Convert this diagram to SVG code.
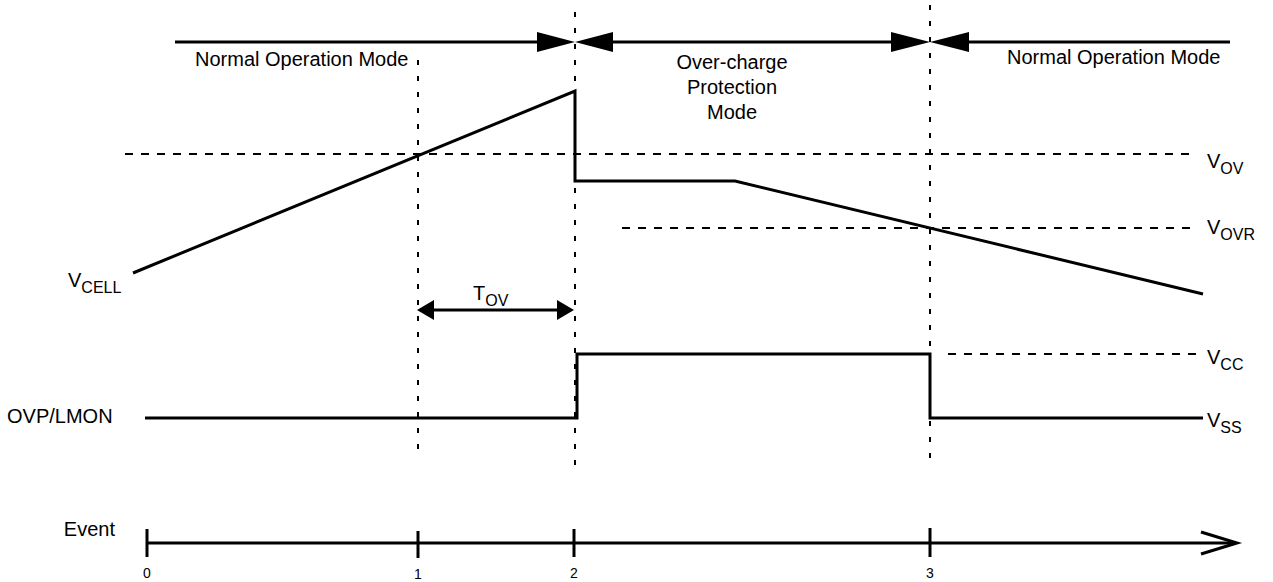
<svg xmlns="http://www.w3.org/2000/svg" width="1273" height="582" viewBox="0 0 1273 582">
<style>
text{font-family:"Liberation Sans",Arial,sans-serif;fill:#000;font-size:20px}
.sub{font-size:16px}
.small{font-size:14px}
.solid{fill:none;stroke:#000;stroke-width:3}
.dh{fill:none;stroke:#000;stroke-width:2;stroke-dasharray:8 8}
.dv{fill:none;stroke:#000;stroke-width:2;stroke-dasharray:5 11}
.ah{fill:#000;stroke:none}
</style>
<rect width="1273" height="582" fill="#fff"/>
<g id="guides">
<line class="dv" x1="418" y1="60" x2="418" y2="458"/>
<line class="dv" x1="575" y1="12" x2="575" y2="466"/>
<line class="dv" x1="930" y1="5" x2="930" y2="468"/>
<line class="dh" x1="125" y1="154" x2="1196" y2="154"/>
<line class="dh" x1="622" y1="228" x2="1196" y2="228"/>
<line class="dh" x1="948" y1="354" x2="1203" y2="354"/>
</g>
<g id="connectors">
<line class="solid" x1="175" y1="42" x2="540" y2="42"/>
<polygon class="ah" points="575,42 537,32 537,52"/>
<line class="solid" x1="610" y1="42" x2="895" y2="42"/>
<polygon class="ah" points="575,42 613,32 613,52"/>
<polygon class="ah" points="930,42 891,32 891,52"/>
<line class="solid" x1="965" y1="42" x2="1230" y2="42"/>
<polygon class="ah" points="930,42 969,32 969,52"/>
<line class="solid" x1="430" y1="310" x2="560" y2="310"/>
<polygon class="ah" points="417,310 434,300 434,320"/>
<polygon class="ah" points="574,310 557,300 557,320"/>
</g>
<g id="vcell-wave">
<polyline class="solid" points="133,273 575,91 575,181 735,181 1203,294"/>
</g>
<g id="ovp-wave">
<polyline class="solid" points="145,418 577,418 577,354 930,354 930,418 1203,418"/>
</g>
<g id="event-axis">
<line class="solid" x1="147" y1="543" x2="1236" y2="543"/>
<polyline class="solid" points="1201,532 1237,543 1201,554"/>
<line class="solid" x1="147" y1="529" x2="147" y2="557"/>
<line class="solid" x1="418" y1="531" x2="418" y2="558"/>
<line class="solid" x1="574" y1="529" x2="574" y2="557"/>
<line class="solid" x1="930" y1="528" x2="930" y2="557"/>
<text class="small" x="147" y="578" text-anchor="middle">0</text>
<text class="small" x="418" y="579" text-anchor="middle">1</text>
<text class="small" x="574" y="578" text-anchor="middle">2</text>
<text class="small" x="930" y="578" text-anchor="middle">3</text>
</g>
<g id="labels">
<text x="195" y="66">Normal Operation Mode</text>
<text x="1007" y="64">Normal Operation Mode</text>
<text x="732" y="69" text-anchor="middle">Over-charge</text>
<text x="732" y="94" text-anchor="middle">Protection</text>
<text x="732" y="119" text-anchor="middle">Mode</text>
<text x="1207" y="168">V<tspan class="sub" dy="6">OV</tspan></text>
<text x="1207" y="234">V<tspan class="sub" dy="6">OVR</tspan></text>
<text x="1207" y="364">V<tspan class="sub" dy="6">CC</tspan></text>
<text x="1207" y="427">V<tspan class="sub" dy="6">SS</tspan></text>
<text x="68" y="287">V<tspan class="sub" dy="6">CELL</tspan></text>
<text x="473" y="300">T<tspan class="sub" dy="6">OV</tspan></text>
<text x="7" y="423">OVP/LMON</text>
<text x="115" y="536" text-anchor="end" font-size="18">Event</text>
</g>
</svg>
